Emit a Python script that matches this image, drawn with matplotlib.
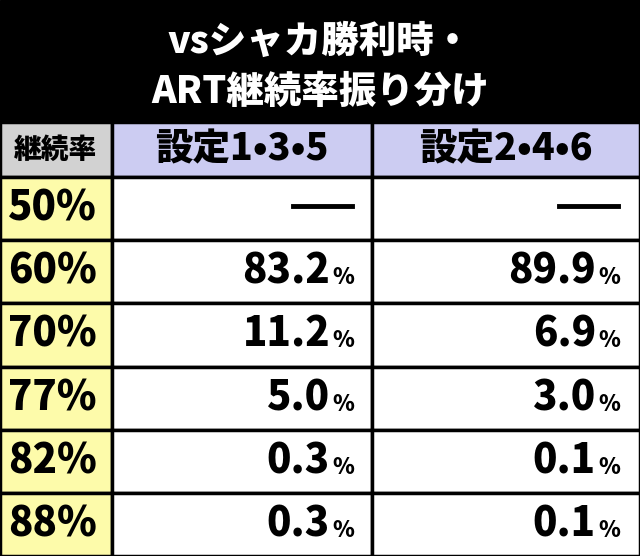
import matplotlib
matplotlib.use("Agg")
import matplotlib.pyplot as plt
from matplotlib.patches import Rectangle

title_lines = ["vsシャカ勝利時・", "ART継続率振り分け"]
header = ["継続率", "設定1•3•5", "設定2•4•6"]
rates = ["50%", "60%", "70%", "77%", "82%", "88%"]
set135 = [None, "83.2", "11.2", "5.0", "0.3", "0.3"]
set246 = [None, "89.9", "6.9", "3.0", "0.1", "0.1"]

FONT = "Noto Sans CJK JP"
WT = "heavy"
W, H = 640, 556
fig = plt.figure(figsize=(6.4, 5.56), dpi=100)
ax = fig.add_axes([0, 0, 1, 1])
ax.set_xlim(0, W); ax.set_ylim(H, 0); ax.axis("off")

ax.add_patch(Rectangle((0, 0), W, 122, color="black"))
ax.text(W/2, 42, title_lines[0], ha="center", va="center", color="white", fontsize=27, fontweight=WT, family=FONT)
ax.text(W/2, 92, title_lines[1], ha="center", va="center", color="white", fontsize=27, fontweight=WT, family=FONT)

cols = [0, 112, 372, 640]
hdr_top, hdr_bot = 122, 177
row_h = (H - hdr_bot) / len(rates)
colors_hdr = ["#d2d2d2", "#ccccf2", "#ccccf2"]
for i in range(3):
    ax.add_patch(Rectangle((cols[i], hdr_top), cols[i+1]-cols[i], hdr_bot-hdr_top,
                           facecolor=colors_hdr[i], edgecolor="black", lw=2.5))
    ax.text((cols[i]+cols[i+1])/2, (hdr_top+hdr_bot)/2, header[i], ha="center", va="center",
            fontsize=20 if i == 0 else 27, fontweight=WT, family=FONT)

for r, rate in enumerate(rates):
    y0 = hdr_bot + r*row_h
    yc = y0 + row_h/2
    for i in range(3):
        ax.add_patch(Rectangle((cols[i], y0), cols[i+1]-cols[i], row_h,
                               facecolor="#fdfbaa" if i == 0 else "white", edgecolor="black", lw=2.5))
    ax.text(8, yc, rate, ha="left", va="center", fontsize=29, fontweight=WT, family=FONT)
    for v, xr in ((set135[r], 330), (set246[r], 596)):
        if v is None:
            ax.plot([xr-37, xr+22], [yc-3, yc-3], color="black", lw=3.5)
        else:
            ax.text(xr, yc, v, ha="right", va="center", fontsize=29, fontweight=WT, family=FONT)
            ax.text(xr+2, yc+6, "%", ha="left", va="center", fontsize=16, fontweight=WT, family=FONT)

fig.savefig("out.png", dpi=100)
